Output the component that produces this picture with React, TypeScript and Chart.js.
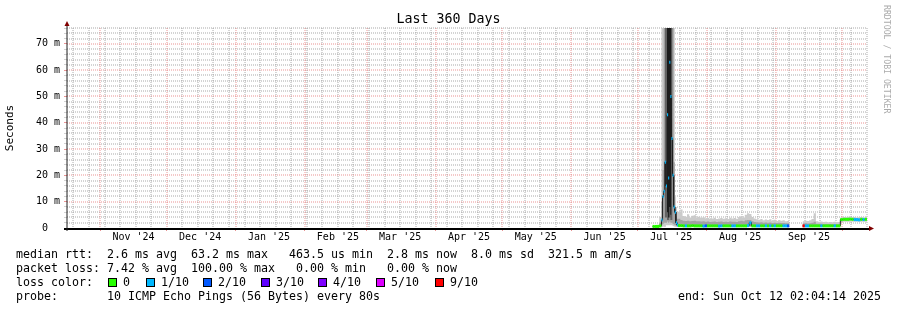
import React, { useEffect, useRef } from 'react';
import { Chart, registerables } from 'chart.js';

Chart.register(...registerables);

const MONO = '"DejaVu Sans Mono", "Liberation Mono", monospace';

// ---------- time window ----------
const titleText = 'Last 360 Days';
const watermark = 'RRDTOOL / TOBI OETIKER';
const windowStartUTC = Date.UTC(2024, 9, 17, 2, 4, 14);
const windowDays = 360;
const DAY_MS = 86400000;

// ---------- x axis (months / weeks) ----------
const monthStarts: [number, number][] = [
  [2024, 10], [2024, 11], [2025, 0], [2025, 1], [2025, 2], [2025, 3],
  [2025, 4], [2025, 5], [2025, 6], [2025, 7], [2025, 8], [2025, 9],
];
const monthLabels = ["Nov '24", "Dec '24", "Jan '25", "Feb '25", "Mar '25", "Apr '25",
  "May '25", "Jun '25", "Jul '25", "Aug '25", "Sep '25"];
const firstSunday: [number, number, number] = [2024, 9, 20];

// ---------- y axis ----------
const yMax = 76;
const yMinorStep = 2;
const yMajorStep = 10;
const yLabels = ['0  ', '10 m', '20 m', '30 m', '40 m', '50 m', '60 m', '70 m'];

// ---------- data: bins (days since window start) ----------
const binStart = [
  263.5, 264.5, 265.5, 266.5,
  267.5, 268, 268.5, 269, 269.5, 270, 270.5, 271, 271.5, 272, 272.5, 273, 273.5, 274, 274.5,
  275, 276, 277, 278, 279, 280, 281, 282, 283, 284,
  285, 286, 287, 288, 289, 290, 291, 292, 293, 294,
  295, 296, 297, 298, 299, 300, 301, 302, 303, 304,
  305, 306, 307, 308, 309, 310, 311, 312, 313, 314,
  315, 316, 317, 318, 319, 320, 321, 322, 323, 324,
  325,
  331, 332, 333, 334, 335, 336, 337, 338, 339, 340,
  341, 342, 343, 344, 345, 346, 347, 348, 349, 350,
  351, 352, 353, 354, 355, 356, 357, 358, 359,
];

// median rtt (ms)
const medianRtt = [
  0.6, 0.6, 0.6, 0.8,
  3, 12, 14, 25, 16, 43, 19, 63, 50, 34, 20, 8, 6, 2, 1.1,
  0.9, 0.9, 0.8, 0.8, 0.8, 0.8, 0.9, 0.8, 0.8, 0.8,
  0.8, 0.7, 0.8, 0.8, 0.8, 0.8, 0.8, 0.8, 0.7, 0.8,
  0.8, 0.8, 0.8, 0.8, 0.8, 0.8, 0.8, 0.8, 0.8, 0.8,
  0.8, 0.9, 2.0, 0.8, 0.8, 0.8, 0.8, 0.8, 0.8, 0.8,
  0.8, 0.8, 0.8, 0.8, 0.8, 0.8, 0.8, 0.8, 0.8, 0.8,
  null,
  0.8, 0.8, 0.8, 0.8, 0.8, 0.8, 0.8, 0.8, 0.8, 0.8,
  0.8, 0.8, 0.8, 0.8, 0.8, 0.8, 0.8, 3.2, 3.3, 3.3,
  3.3, 3.4, 3.3, 3.2, 3.2, 3.1, 3.3, 3.2, 3.3,
];

// lost pings out of 10
const lossCount = [
  0, 0, 0, 0,
  1, 1, 1, 1, 1, 1, 1, 1, 1, 1, 1, 1, 1, 1, 1,
  0, 0, 0, 1, 0, 0, 0, 0, 0, 0,
  0, 1, 2, 0, 0, 0, 0, 0, 1, 1,
  0, 0, 0, 0, 1, 1, 0, 0, 0, 0,
  0, 1, 1, 0, 0, 1, 1, 0, 0, 1,
  0, 1, 0, 1, 0, 0, 0, 1, 1, 2,
  null,
  9, 1, 1, 0, 0, 0, 0, 0, 1, 0,
  0, 0, 0, 0, 1, 0, 0, 0, 0, 0,
  0, 0, 0, 1, 1, 1, 0, 1, 0,
];

// smoke: slowest ping
const smokeMax = [
  0.9, 1.0, 1.2, 4.3,
  80, 80, 80, 80, 80, 80, 80, 80, 80, 80, 80, 80, 12, 8, 6.5,
  6.2, 7.0, 4.6, 4.3, 5.2, 4.0, 4.7, 4.8, 4.1, 4.3,
  3.9, 4.1, 3.7, 3.8, 3.5, 3.6, 3.9, 3.4, 3.6, 3.8,
  3.5, 3.7, 3.4, 3.9, 3.6, 3.8, 3.5, 4.2, 4.6, 4.0,
  5.0, 5.6, 5.3, 4.2, 3.6, 3.3, 3.1, 3.4, 2.9, 3.2,
  3.0, 3.3, 2.8, 3.1, 2.7, 3.0, 2.8, 2.9, 2.6, 2.7,
  null,
  2.6, 2.8, 2.7, 2.9, 3.4, 5.6, 2.6, 2.4, 2.5, 2.3,
  2.4, 2.2, 2.3, 2.2, 2.4, 2.2, 2.3, 4.0, 4.2, 4.1,
  4.3, 4.0, 4.1, 4.2, 4.0, 4.1, 4.2, 4.0, 4.1,
];

// smoke: upper inner pings
const smokeMidHi = [
  0.7, 0.8, 0.8, 2.0,
  10, 22, 80, 80, 80, 80, 80, 80, 80, 80, 80, 25, 7, 4.5, 3.5,
  3.5, 3.0, 2.8, 2.7, 2.8, 2.6, 2.7, 2.8, 2.6, 2.6,
  2.5, 2.6, 2.4, 2.5, 2.3, 2.4, 2.5, 2.3, 2.4, 2.5,
  2.3, 2.4, 2.3, 2.5, 2.4, 2.4, 2.3, 2.6, 2.8, 2.6,
  2.9, 3.0, 3.0, 2.6, 2.3, 2.2, 2.1, 2.2, 2.0, 2.1,
  2.0, 2.1, 1.9, 2.0, 1.9, 2.0, 1.9, 1.9, 1.8, 1.8,
  null,
  1.7, 1.8, 1.7, 1.8, 2.0, 2.4, 1.6, 1.6, 1.6, 1.5,
  1.5, 1.5, 1.5, 1.4, 1.5, 1.4, 1.4, 3.6, 3.7, 3.6,
  3.7, 3.6, 3.6, 3.7, 3.6, 3.6, 3.7, 3.6, 3.6,
];

// smoke: lower inner pings
const smokeMidLo = [
  0.5, 0.5, 0.5, 0.6,
  1, 1.5, 2, 2, 2, 2.5, 2, 2.5, 2, 2, 1.5, 1.2, 1, 0.9, 0.7,
  0.6, 0.6, 0.6, 0.6, 0.6, 0.6, 0.6, 0.6, 0.6, 0.6,
  0.6, 0.6, 0.6, 0.6, 0.6, 0.6, 0.6, 0.6, 0.6, 0.6,
  0.6, 0.6, 0.6, 0.6, 0.6, 0.6, 0.6, 0.6, 0.6, 0.6,
  0.6, 0.6, 0.6, 0.6, 0.6, 0.6, 0.6, 0.6, 0.6, 0.6,
  0.6, 0.6, 0.6, 0.6, 0.6, 0.6, 0.6, 0.6, 0.6, 0.6,
  null,
  0.6, 0.6, 0.6, 0.6, 0.6, 0.6, 0.6, 0.6, 0.6, 0.6,
  0.6, 0.6, 0.6, 0.6, 0.6, 0.6, 0.6, 2.5, 2.9, 2.9,
  2.9, 2.9, 2.9, 2.9, 2.9, 2.9, 2.9, 2.9, 2.9,
];

// smoke: fastest ping
const smokeMin = [
  0.3, 0.3, 0.3, 0.3,
  0.4, 0.5, 0.6, 0.8, 1, 1, 1, 1, 1, 1, 0.8, 0.6, 0.5, 0.4, 0.4,
  0.35, 0.35, 0.35, 0.35, 0.35, 0.35, 0.35, 0.35, 0.35, 0.35,
  0.35, 0.35, 0.35, 0.35, 0.35, 0.35, 0.35, 0.35, 0.35, 0.35,
  0.35, 0.35, 0.35, 0.35, 0.35, 0.35, 0.35, 0.35, 0.35, 0.35,
  0.35, 0.35, 0.35, 0.35, 0.35, 0.35, 0.35, 0.35, 0.35, 0.35,
  0.35, 0.35, 0.35, 0.35, 0.35, 0.35, 0.35, 0.35, 0.35, 0.35,
  null,
  0.35, 0.35, 0.35, 0.35, 0.35, 0.35, 0.35, 0.35, 0.35, 0.35,
  0.35, 0.35, 0.35, 0.35, 0.35, 0.35, 0.35, 2.2, 2.4, 2.4,
  2.4, 2.4, 2.4, 2.4, 2.4, 2.4, 2.4, 2.4, 2.4,
];

// denser smoke during the spike
const darkStart = [269, 269.5, 270, 270.5, 271, 271.5, 272];
const darkEnd = 272.5;
const darkHi = [80, 80, 80, 80, 80, 80, 80];
const darkLo = [4, 4, 3, 3, 4, 3, 3];
const coreStart = [270, 270.5, 271, 271.5];
const coreEnd = 272;
const coreHi = [80, 80, 80, 80];
const coreLo = [6, 4, 8, 5];

// ---------- legend ----------
const lossLevels = [0, 1, 2, 3, 4, 5, 9];
const lossLabels = ['0', '1/10', '2/10', '3/10', '4/10', '5/10', '9/10'];
const lossColors = ['#26ff00', '#00b8ff', '#0059ff', '#5e00ff', '#7e00ff', '#dd00ff', '#ff0000'];
const statsRtt = 'median rtt:  2.6 ms avg  63.2 ms max   463.5 us min  2.8 ms now  8.0 ms sd  321.5 m am/s';
const statsLoss = 'packet loss: 7.42 % avg  100.00 % max   0.00 % min   0.00 % now';
const probeText = 'probe:       10 ICMP Echo Pings (56 Bytes) every 80s';
const endText = 'end: Sun Oct 12 02:04:14 2025';

// ---------- styles ----------
const GRID_MINOR = 'rgba(143,143,143,0.75)';
const GRID_MAJOR = 'rgba(222,79,79,0.6)';
const SMOKE_LIGHT = '#cbcbcb';
const SMOKE_MID = '#a2a2a2';
const SMOKE_DARK = '#636363';
const SMOKE_CORE = '#1c1c1c';
const TRANSPARENT = 'rgba(0,0,0,0)';

const lossColor = (n: number | null) => {
  if (n === null || n === undefined) return TRANSPARENT;
  const i = lossLevels.indexOf(n);
  return i >= 0 ? lossColors[i] : lossColors[lossColors.length - 1];
};

function stepPoints(starts: number[], end: number, values: (number | null)[]) {
  const pts: { x: number; y: number | null }[] = [];
  for (let i = 0; i < starts.length; i++) {
    const x0 = starts[i];
    const x1 = i + 1 < starts.length ? starts[i + 1] : end;
    const v = values[i];
    pts.push({ x: x0, y: v }, { x: x1, y: v });
  }
  return pts;
}

const dayOf = (y: number, m: number, d: number) => (Date.UTC(y, m, d) - windowStartUTC) / DAY_MS;

function monthDays() {
  return monthStarts.map(([y, m]) => dayOf(y, m, 1)).filter((d) => d >= 0 && d <= windowDays);
}
function weekDays() {
  const out: number[] = [];
  const md = monthDays();
  const [sy, sm, sd] = firstSunday;
  for (let w = 0; ; w++) {
    const d = dayOf(sy, sm, sd + 7 * w);
    if (d > windowDays) break;
    if (!md.some((m) => Math.abs(m - d) < 0.01)) out.push(d);
  }
  return out;
}

function buildXTicks() {
  const ticks: any[] = [];
  monthDays().forEach((d) => ticks.push({ value: d, kind: 'month' }));
  weekDays().forEach((d) => ticks.push({ value: d, kind: 'week' }));
  monthLabels.forEach((lab, i) => {
    const [y, m] = monthStarts[i];
    const d = dayOf(y, m, 1) + 15;
    if (d > 0 && d < windowDays) ticks.push({ value: d, kind: 'label', text: lab });
  });
  ticks.sort((a, b) => a.value - b.value);
  return ticks;
}

function yGridValues() {
  const out: number[] = [];
  for (let v = 0; v <= yMax; v += yMinorStep) out.push(v);
  return out;
}

// rrdtool-like dotted grid, drawn through the chart's scales
const rrdGrid = {
  id: 'rrdGrid',
  beforeDatasetsDraw(chart: any) {
    const { ctx } = chart;
    const { left, right, top, bottom } = chart.chartArea;
    const xs = chart.scales.x;
    const ys = chart.scales.y;
    ctx.save();
    ctx.lineWidth = 1;
    ctx.setLineDash([1, 1]);
    const vline = (d: number, color: string) => {
      const px = Math.round(xs.getPixelForValue(d));
      ctx.strokeStyle = color;
      ctx.beginPath();
      ctx.moveTo(px, top);
      ctx.lineTo(px, bottom);
      ctx.stroke();
    };
    const hline = (v: number, color: string) => {
      const py = Math.round(ys.getPixelForValue(v));
      ctx.strokeStyle = color;
      ctx.beginPath();
      ctx.moveTo(left, py);
      ctx.lineTo(right, py);
      ctx.stroke();
    };
    const yv = yGridValues();
    weekDays().forEach((d) => vline(d, GRID_MINOR));
    yv.filter((v) => v % yMajorStep !== 0).forEach((v) => hline(v, GRID_MINOR));
    monthDays().forEach((d) => vline(d, GRID_MAJOR));
    yv.filter((v) => v % yMajorStep === 0 && v > 0).forEach((v) => hline(v, GRID_MAJOR));
    ctx.restore();
  },
};

const decor = {
  id: 'rrdDecor',
  afterDraw(chart: any) {
    const { ctx } = chart;
    const { left, right, top, bottom } = chart.chartArea;
    ctx.save();
    // x axis
    ctx.fillStyle = '#000';
    ctx.fillRect(left - 3, bottom, right - left + 5, 2);
    // y axis
    ctx.strokeStyle = '#202020';
    ctx.lineWidth = 1;
    ctx.beginPath();
    ctx.moveTo(left, bottom + 3);
    ctx.lineTo(left, top - 2);
    ctx.stroke();
    // arrows
    ctx.fillStyle = '#800000';
    ctx.beginPath();
    ctx.moveTo(left - 2.5, top - 2);
    ctx.lineTo(left + 2.5, top - 2);
    ctx.lineTo(left, top - 7);
    ctx.closePath();
    ctx.fill();
    ctx.beginPath();
    ctx.moveTo(right + 2, bottom - 2);
    ctx.lineTo(right + 2, bottom + 3);
    ctx.lineTo(right + 7, bottom + 0.5);
    ctx.closePath();
    ctx.fill();
    // title
    ctx.fillStyle = '#000';
    ctx.font = `13.3px ${MONO}`;
    ctx.textAlign = 'center';
    ctx.textBaseline = 'alphabetic';
    ctx.fillText(titleText, chart.width / 2, 23);
    // watermark
    ctx.fillStyle = '#ababab';
    ctx.font = `8.2px ${MONO}`;
    ctx.translate(886, 5);
    ctx.rotate(Math.PI / 2);
    ctx.textAlign = 'left';
    ctx.textBaseline = 'middle';
    ctx.fillText(watermark, 0, 0);
    ctx.restore();
  },
};

const textStyle = (left: number, top: number): React.CSSProperties => ({
  position: 'absolute',
  left,
  top,
  margin: 0,
  whiteSpace: 'pre',
  fontFamily: MONO,
  fontSize: '11.63px',
  lineHeight: '14px',
  color: '#000',
});

const boxX = [108, 146, 203, 261, 318, 376, 435];
const boxLabelX = [123, 161, 218, 276, 333, 391, 450];

export default function App() {
  const ref = useRef<HTMLCanvasElement>(null);

  useEffect(() => {
    const canvas = ref.current;
    if (!canvas) return;
    const end = windowDays;
    const invisible = { borderWidth: 0, borderColor: TRANSPARENT, pointRadius: 0, fill: false };
    const band = (color: string, target: number, order: number) => ({
      borderWidth: 0, pointRadius: 0, borderColor: TRANSPARENT, backgroundColor: color, fill: target, order,
    });
    const medianPts = stepPoints(binStart, end, medianRtt);

    const chart = new Chart(canvas, {
      type: 'line',
      data: {
        datasets: [
          { label: 'min', data: stepPoints(binStart, end, smokeMin), ...invisible, order: 20 },
          { label: 'max', data: stepPoints(binStart, end, smokeMax), ...band(SMOKE_LIGHT, 0, 10) },
          { label: 'midLo', data: stepPoints(binStart, end, smokeMidLo), ...invisible, order: 20 },
          { label: 'midHi', data: stepPoints(binStart, end, smokeMidHi), ...band(SMOKE_MID, 2, 9) },
          { label: 'darkLo', data: stepPoints(darkStart, darkEnd, darkLo), ...invisible, order: 20 },
          { label: 'darkHi', data: stepPoints(darkStart, darkEnd, darkHi), ...band(SMOKE_DARK, 4, 8) },
          { label: 'coreLo', data: stepPoints(coreStart, coreEnd, coreLo), ...invisible, order: 20 },
          { label: 'coreHi', data: stepPoints(coreStart, coreEnd, coreHi), ...band(SMOKE_CORE, 6, 7) },
          { label: 'median', data: medianPts, borderWidth: 1, borderColor: '#202020', pointRadius: 0, fill: false, order: 2 },
          {
            label: 'loss', data: medianPts, borderWidth: 3, pointRadius: 0, fill: false, order: 1,
            borderColor: lossColors[0], borderCapStyle: 'butt',
            segment: {
              borderColor: (ctx: any) =>
                ctx.p0DataIndex % 2 === 0 ? lossColor(lossCount[ctx.p0DataIndex / 2]) : TRANSPARENT,
            },
          },
        ] as any,
      },
      options: {
        animation: false,
        responsive: false,
        devicePixelRatio: 1,
        events: [],
        layout: { padding: { top: 28, right: 30, left: 0, bottom: 0 } },
        plugins: { legend: { display: false }, tooltip: { enabled: false }, title: { display: false } },
        elements: { point: { radius: 0 }, line: { tension: 0 } },
        scales: {
          x: {
            type: 'linear',
            min: 0,
            max: windowDays,
            afterBuildTicks: (s: any) => { s.ticks = buildXTicks(); },
            afterFit: (s: any) => { s.height = 82; },
            grid: {
              drawOnChartArea: false,
              drawTicks: true,
              tickLength: 3,
              tickColor: (c: any) => (c.tick && c.tick.kind === 'month' ? GRID_MAJOR : TRANSPARENT),
            },
            border: { display: false },
            ticks: {
              autoSkip: false,
              maxRotation: 0,
              minRotation: 0,
              padding: 0,
              color: '#000',
              font: { family: MONO, size: 10 },
              callback: (_v: any, i: number, ticks: any[]) => (ticks[i] && ticks[i].text) || '',
            },
          },
          y: {
            type: 'linear',
            min: 0,
            max: yMax,
            afterBuildTicks: (s: any) => { s.ticks = yGridValues().map((v) => ({ value: v })); },
            afterFit: (s: any) => { s.width = 67; },
            grid: {
              drawOnChartArea: false,
              drawTicks: true,
              tickLength: 3,
              tickColor: (c: any) => (c.tick && c.tick.value % yMajorStep === 0 ? GRID_MAJOR : 'rgba(143,143,143,0.4)'),
            },
            border: { display: false },
            title: { display: true, text: 'Seconds', color: '#000', font: { family: MONO, size: 11 } },
            ticks: {
              autoSkip: false,
              padding: 4,
              color: '#000',
              font: { family: MONO, size: 10 },
              callback: (v: any) => (v % yMajorStep === 0 ? yLabels[v / yMajorStep] ?? '' : ''),
            },
          },
        },
      } as any,
      plugins: [rrdGrid, decor],
    });
    return () => chart.destroy();
  }, []);

  return (
    <div style={{ position: 'absolute', left: 0, top: 0, width: 897, height: 310, background: '#fff', overflow: 'hidden' }}>
      <canvas ref={ref} width={897} height={310} style={{ position: 'absolute', left: 0, top: 0, width: 897, height: 310 }} />
      <div style={textStyle(16, 247)}>{statsRtt}</div>
      <div style={textStyle(16, 261)}>{statsLoss}</div>
      <div style={textStyle(16, 275)}>loss color:</div>
      {lossLabels.map((lab, i) => (
        <React.Fragment key={lab}>
          <div style={{ position: 'absolute', left: boxX[i], top: 278, width: 9, height: 9, boxSizing: 'border-box', border: '1px solid #000', background: lossColors[i] }} />
          <div style={textStyle(boxLabelX[i], 275)}>{lab}</div>
        </React.Fragment>
      ))}
      <div style={textStyle(16, 289)}>{probeText}</div>
      <div style={textStyle(678, 289)}>{endText}</div>
    </div>
  );
}
